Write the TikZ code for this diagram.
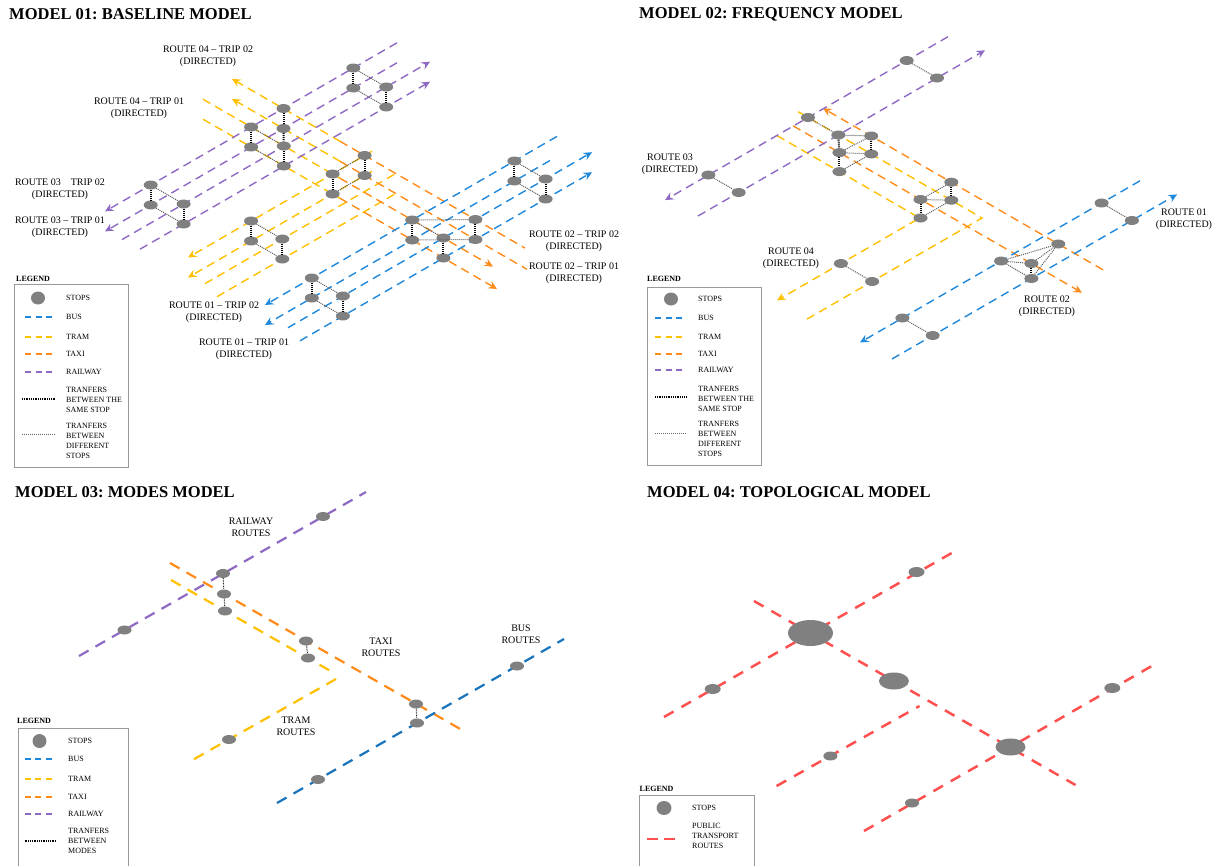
\documentclass[tikz,border=0pt]{standalone}
\usepackage{fontspec}
\setmainfont{Liberation Serif}
\usetikzlibrary{shapes.geometric,arrows.meta}
\pgfdeclarelayer{bgfill}
\pgfdeclarelayer{back}
\pgfsetlayers{bgfill,back,main}
\definecolor{busc}{RGB}{30,136,220}
\definecolor{tramc}{RGB}{255,192,0}
\definecolor{taxic}{RGB}{255,140,26}
\definecolor{railc}{RGB}{142,106,196}
\definecolor{stopc}{RGB}{128,128,128}
\definecolor{redc}{RGB}{255,80,80}
\frenchspacing
\begin{document}
\begin{tikzpicture}[x=1pt,y=-1pt,
  stop/.style={ellipse, fill=stopc, inner sep=0pt, minimum width=14pt, minimum height=9pt},
  ln/.style={line width=1.4pt, dash pattern=on 8.5pt off 5.5pt},
  lnthree/.style={line width=2.2pt, dash pattern=on 11pt off 8pt},
  lnfour/.style={redc, line width=2.5pt, dash pattern=on 11pt off 9pt},
  legln/.style={line width=1.4pt, dash pattern=on 6pt off 4.5pt},
  arrowend/.style={-{Stealth[length=8.5pt,width=8pt,inset=3pt]}},
  same/.style={black, line width=2pt, dash pattern=on 1pt off 1pt},
  diff/.style={gray!75!black, line width=1pt, dash pattern=on 1pt off 1pt},
  modes/.style={black!85, line width=1pt, dash pattern=on 0.8pt off 0.8pt},
  ttl/.style={anchor=west, inner sep=0pt, font=\bfseries\fontsize{16.5}{18}\selectfont},
  lbl/.style={align=center, inner sep=0pt, font=\fontsize{10}{12}\selectfont},
  leg/.style={anchor=west, align=left, inner sep=0pt, font=\fontsize{8}{10}\selectfont},
  legt/.style={anchor=west, inner sep=0pt, font=\bfseries\fontsize{8}{10}\selectfont},
  legbox/.style={draw=gray!80, line width=1pt}
]
\useasboundingbox (0,0) rectangle (1221,865);
\begin{pgfonlayer}{bgfill}
\fill[white] (0,0) rectangle (1221,865);
\end{pgfonlayer}

% ---------------- titles
\node[ttl] (t1) at (9,14) {MODEL 01: BASELINE MODEL};
\node[ttl] (t2) at (639,14) {MODEL 02: FREQUENCY MODEL};
\node[ttl] (t3) at (15,492) {MODEL 03: MODES MODEL};
\node[ttl] (t4) at (647,492) {MODEL 04: TOPOLOGICAL MODEL};

% ================= MODEL 01 =================
\node[stop] (A1) at (150.7,185) {};
\node[stop] (A2) at (150.7,205) {};
\node[stop] (A3) at (183.6,204) {};
\node[stop] (A4) at (183.6,224) {};
\node[stop] (B1) at (251.1,127) {};
\node[stop] (B2) at (251.1,147) {};
\node[stop] (C1) at (283.5,108.5) {};
\node[stop] (C2) at (283.5,128.5) {};
\node[stop] (C3) at (283.8,146) {};
\node[stop] (C4) at (283.8,166) {};
\node[stop] (D1) at (353.3,68) {};
\node[stop] (D2) at (353.3,88) {};
\node[stop] (D3) at (386.2,87) {};
\node[stop] (D4) at (386.2,107) {};
\node[stop] (E1) at (251.1,221) {};
\node[stop] (E2) at (251.1,241) {};
\node[stop] (E3) at (282.3,239) {};
\node[stop] (E4) at (282.3,259) {};
\node[stop] (F1) at (332.6,174) {};
\node[stop] (F2) at (332.6,194) {};
\node[stop] (F3) at (364.6,155.5) {};
\node[stop] (F4) at (364.6,175.5) {};
\node[stop] (G1) at (311.8,278) {};
\node[stop] (G2) at (311.8,298) {};
\node[stop] (G3) at (342.9,296) {};
\node[stop] (G4) at (342.9,316) {};
\node[stop] (H1) at (412.2,220) {};
\node[stop] (H2) at (412.2,240) {};
\node[stop] (H3) at (443.4,238) {};
\node[stop] (H4) at (443.4,258) {};
\node[stop] (H5) at (475.4,219.5) {};
\node[stop] (H6) at (475.4,239.5) {};
\node[stop] (K1) at (514.4,161) {};
\node[stop] (K2) at (514.4,181) {};
\node[stop] (K3) at (545.6,179) {};
\node[stop] (K4) at (545.6,199) {};

% route end points
\coordinate (pa1) at (397,42.8);  \coordinate (pa2) at (105,211.4);
\coordinate (pb1) at (397,62.8);  \coordinate (pb2) at (105,231.4);
\coordinate (pc1) at (122,239.6); \coordinate (pc2) at (430,61.7);
\coordinate (pd1) at (140,249.2); \coordinate (pd2) at (430,81.7);
\coordinate (ya1) at (340,141.3); \coordinate (ya2) at (232,78.9);
\coordinate (yb1) at (340,161.3); \coordinate (yb2) at (232,98.9);
\coordinate (yc1) at (203,99.2);  \coordinate (yc2) at (340,178.3);
\coordinate (yd1) at (203,119.2); \coordinate (yd2) at (340,198.3);
\coordinate (oa2) at (525,248.1); \coordinate (ob2) at (527,269.3);
\coordinate (oc2) at (493,266.6); \coordinate (od2) at (497,289);
\coordinate (ye1) at (372,151.2); \coordinate (ye2) at (188,257.5);
\coordinate (yf1) at (372,171.2); \coordinate (yf2) at (188,277.5);
\coordinate (yg1) at (205,283.6); \coordinate (yg2) at (396,173.4);
\coordinate (yh1) at (217,296.7); \coordinate (yh2) at (396,193.4);
\coordinate (ba1) at (557,136.4); \coordinate (ba2) at (265,305);
\coordinate (bb1) at (550,160.5); \coordinate (bb2) at (265,325);
\coordinate (bc1) at (288,327.7); \coordinate (bc2) at (592,152.2);
\coordinate (bd1) at (300,340.8); \coordinate (bd2) at (592,172.2);

\begin{pgfonlayer}{back}
\draw[ln, tramc, arrowend] (ye1) -- (ye2);
\draw[ln, tramc, arrowend] (yf1) -- (yf2);
\draw[ln, tramc] (yg1) -- (yg2);
\draw[ln, tramc] (yh1) -- (yh2);
\draw[ln, taxic] (ya1) -- (oa2);
\draw[ln, taxic] (yb1) -- (ob2);
\draw[ln, taxic, arrowend] (yc2) -- (oc2);
\draw[ln, taxic, arrowend] (yd2) -- (od2);
\draw[ln, tramc, arrowend] (ya1) -- (ya2);
\draw[ln, tramc, arrowend] (yb1) -- (yb2);
\draw[ln, tramc] (yc1) -- (yc2);
\draw[ln, tramc] (yd1) -- (yd2);
\draw[ln, railc, arrowend] (pa1) -- (pa2);
\draw[ln, railc, arrowend] (pb1) -- (pb2);
\draw[ln, railc, arrowend] (pc1) -- (pc2);
\draw[ln, railc, arrowend] (pd1) -- (pd2);
\draw[ln, busc, arrowend] (ba1) -- (ba2);
\draw[ln, busc, arrowend] (bb1) -- (bb2);
\draw[ln, busc, arrowend] (bc1) -- (bc2);
\draw[ln, busc, arrowend] (bd1) -- (bd2);
\end{pgfonlayer}

% transfers model 01
\draw[same] (A1) -- (A2); \draw[same] (A3) -- (A4);
\draw[diff] (A1) -- (A3); \draw[diff] (A2) -- (A4);
\draw[same] (B1) -- (B2);
\draw[same] (C1) -- (C2); \draw[same] (C2) -- (C3); \draw[same] (C3) -- (C4);
\draw[diff] (B1) -- (C3); \draw[diff] (B2) -- (C4);
\draw[same] (D1) -- (D2); \draw[same] (D3) -- (D4);
\draw[diff] (D1) -- (D3); \draw[diff] (D2) -- (D4);
\draw[same] (E1) -- (E2); \draw[same] (E3) -- (E4);
\draw[diff] (E1) -- (E3); \draw[diff] (E2) -- (E4);
\draw[same] (F1) -- (F2); \draw[same] (F3) -- (F4);
\draw[diff] (F1) -- (F3); \draw[diff] (F2) -- (F4);
\draw[same] (G1) -- (G2); \draw[same] (G3) -- (G4);
\draw[diff] (G1) -- (G3); \draw[diff] (G2) -- (G4);
\draw[same] (H1) -- (H2); \draw[same] (H3) -- (H4); \draw[same] (H5) -- (H6);
\draw[diff] (H1) -- (H5); \draw[diff] (H2) -- (H6); \draw[diff] (H1) -- (H3);
\draw[same] (K1) -- (K2); \draw[same] (K3) -- (K4);
\draw[diff] (K1) -- (K3); \draw[diff] (K2) -- (K4);

% labels model 01
\node[lbl] (l1) at (208,56) {ROUTE 04 -- TRIP 02\\(DIRECTED)};
\node[lbl] (l2) at (139,108) {ROUTE 04 -- TRIP 01\\(DIRECTED)};
\node[lbl] (l3) at (60,189) {ROUTE 03 \hphantom{--} TRIP 02\\(DIRECTED)};
\node[lbl] (l4) at (60,227) {ROUTE 03 -- TRIP 01\\(DIRECTED)};
\node[lbl] (l5) at (214,312) {ROUTE 01 -- TRIP 02\\(DIRECTED)};
\node[lbl] (l6) at (244,349.5) {ROUTE 01 -- TRIP 01\\(DIRECTED)};
\node[lbl] (l7) at (574,241.5) {ROUTE 02 -- TRIP 02\\(DIRECTED)};
\node[lbl] (l8) at (574,273) {ROUTE 02 -- TRIP 01\\(DIRECTED)};

% legend model 01
\node[legt] (lg1) at (16,279) {LEGEND};
\draw[legbox] (14,284) rectangle (128,467);
\node[stop, minimum width=14pt, minimum height=13pt] (ls1) at (38,298) {};
\node[leg] at (66,298) {STOPS};
\draw[legln, busc] (25,317) -- (53,317);   \node[leg] at (66,317) {BUS};
\draw[legln, tramc] (25,337) -- (53,337);  \node[leg] at (66,337) {TRAM};
\draw[legln, taxic] (25,354) -- (53,354);  \node[leg] at (66,354) {TAXI};
\draw[legln, railc] (25,372) -- (53,372);  \node[leg] at (66,372) {RAILWAY};
\draw[black, line width=1.5pt, dash pattern=on 0.9pt off 0.9pt] (22,399) -- (55,399);
\node[leg] at (66,400) {TRANFERS\\BETWEEN THE\\SAME STOP};
\draw[diff] (22,434) -- (55,434);
\node[leg] at (66,441) {TRANFERS\\BETWEEN\\DIFFERENT\\STOPS};

% ================= MODEL 02 =================
\node[stop] (S1) at (906.7,60.5) {};
\node[stop] (S2) at (937.0,78) {};
\node[stop] (S3) at (708.4,175) {};
\node[stop] (S4) at (738.7,192.5) {};
\node[stop] (S5) at (808.0,117.5) {};
\node[stop] (S6) at (838.3,135) {};
\node[stop] (S7) at (839.4,152.6) {};
\node[stop] (S8) at (839.4,171.6) {};
\node[stop] (S9) at (871.2,136) {};
\node[stop] (S10) at (871.2,154) {};
\node[stop] (Q1) at (920.5,199.5) {};
\node[stop] (Q2) at (920.5,218) {};
\node[stop] (Q3) at (951.3,182.2) {};
\node[stop] (Q4) at (951.3,200.2) {};
\node[stop] (T1) at (840.9,263.5) {};
\node[stop] (T2) at (872.1,281.5) {};
\node[stop] (U1) at (1101.6,203) {};
\node[stop] (U2) at (1131.9,220.5) {};
\node[stop] (U3) at (902.4,318) {};
\node[stop] (U4) at (932.7,335.5) {};
\node[stop] (R1) at (1001.1,261) {};
\node[stop] (R2) at (1031.4,263.5) {};
\node[stop] (R3) at (1031.4,278.5) {};
\node[stop] (R4) at (1058.3,244) {};

\coordinate (qa1) at (948,36.7);   \coordinate (qa2) at (665,200.1);
\coordinate (qb1) at (698,216);    \coordinate (qb2) at (985,50.3);
\coordinate (qo1) at (1103,269.8); \coordinate (qo2) at (823,108.2);
\coordinate (qp1) at (793,125.8);  \coordinate (qp2) at (1082,292.7);
\coordinate (qy1) at (777,135.6);  \coordinate (qyv) at (919.7,218);  \coordinate (qy2) at (777,300.4);
\coordinate (qz1) at (807,319.1);  \coordinate (qzv) at (982.0,218);  \coordinate (qz2) at (798,111.7);
\coordinate (qc1) at (1140,180.8); \coordinate (qc2) at (860,342.5);
\coordinate (qd1) at (892,359);    \coordinate (qd2) at (1177,194.4);

\begin{pgfonlayer}{back}
\draw[ln, tramc, arrowend] (qy1) -- (qyv) -- (qy2);
\draw[ln, tramc] (qz1) -- (qzv) -- (qz2);
\draw[ln, taxic, arrowend] (qo1) -- (qo2);
\draw[ln, taxic, arrowend] (qp1) -- (qp2);
\draw[ln, railc, arrowend] (qa1) -- (qa2);
\draw[ln, railc, arrowend] (qb1) -- (qb2);
\draw[ln, busc, arrowend] (qc1) -- (qc2);
\draw[ln, busc, arrowend] (qd1) -- (qd2);
\end{pgfonlayer}

\draw[diff] (S1) -- (S2); \draw[diff] (S3) -- (S4);
\draw[diff] (S5) -- (S6);
\draw[same] (S6) -- (S7); \draw[same] (S7) -- (S8); \draw[same] (S9) -- (S10);
\draw[diff] (S6) -- (S9); \draw[diff] (S7) -- (S10);
\draw[diff] (S7) -- (S9); \draw[diff] (S8) -- (S10);
\draw[same] (Q1) -- (Q2); \draw[same] (Q3) -- (Q4);
\draw[diff] (Q1) -- (Q3); \draw[diff] (Q1) -- (Q4); \draw[diff] (Q2) -- (Q4);
\draw[diff] (T1) -- (T2);
\draw[diff] (U1) -- (U2); \draw[diff] (U3) -- (U4);
\draw[same] (R2) -- (R3);
\draw[diff] (R1) -- (R4); \draw[diff] (R1) -- (R2); \draw[diff] (R1) -- (R3);
\draw[diff] (R3) -- (R4); \draw[diff] (R2) -- (R4);

\node[lbl] (m1) at (670,164) {ROUTE 03\\(DIRECTED)};
\node[lbl] (m2) at (791,258) {ROUTE 04\\(DIRECTED)};
\node[lbl] (m3) at (1184,219.5) {ROUTE 01\\(DIRECTED)};
\node[lbl] (m4) at (1047,306) {ROUTE 02\\(DIRECTED)};

% legend model 02
\node[legt] (lg2) at (647,279) {LEGEND};
\draw[legbox] (647,287) rectangle (761,465);
\node[stop, minimum width=14pt, minimum height=13pt] (ls2) at (671,299) {};
\node[leg] at (698,299) {STOPS};
\draw[legln, busc] (655,318) -- (686,318);   \node[leg] at (698,318) {BUS};
\draw[legln, tramc] (655,337) -- (686,337);  \node[leg] at (698,337) {TRAM};
\draw[legln, taxic] (655,354) -- (686,354);  \node[leg] at (698,354) {TAXI};
\draw[legln, railc] (655,370) -- (686,370);  \node[leg] at (698,370) {RAILWAY};
\draw[black, line width=1.5pt, dash pattern=on 0.9pt off 0.9pt] (655,397) -- (687,397);
\node[leg] at (698,399) {TRANFERS\\BETWEEN THE\\SAME STOP};
\draw[diff] (655,433) -- (687,433);
\node[leg] at (698,439) {TRANFERS\\BETWEEN\\DIFFERENT\\STOPS};

% ================= MODEL 03 =================
\node[stop] (M1) at (223,573.5) {};
\node[stop] (M2) at (224,594) {};
\node[stop] (M3) at (225,611) {};
\node[stop] (M4) at (306,641) {};
\node[stop] (M5) at (308,658) {};
\node[stop] (M6) at (416,704) {};
\node[stop] (M7) at (417,723) {};
\node[stop] (M8) at (124.5,630) {};
\node[stop] (M9) at (323,516.5) {};
\node[stop] (M10) at (229,739.5) {};
\node[stop] (M11) at (318,779.5) {};
\node[stop] (M12) at (517,666) {};

\coordinate (ra1) at (79,656);   \coordinate (ra2) at (366,492);
\coordinate (ro1) at (170,563);  \coordinate (ro2) at (462,730);
\coordinate (ry1) at (171,580);  \coordinate (ry2) at (334,673);
\coordinate (ry3) at (336,679);  \coordinate (ry4) at (192.5,760);
\coordinate (rb1) at (277,803);  \coordinate (rb2) at (564,639);
\begin{pgfonlayer}{back}
\draw[lnthree, railc] (ra1) -- (ra2);
\draw[lnthree, taxic] (ro1) -- (ro2);
\draw[lnthree, tramc] (ry1) -- (ry2);
\draw[lnthree, tramc] (ry3) -- (ry4);
\draw[lnthree, busc!85!black] (rb1) -- (rb2);
\end{pgfonlayer}
\draw[modes] (M1) -- (M2); \draw[modes] (M2) -- (M3);
\draw[modes] (M4) -- (M5); \draw[modes] (M6) -- (M7);

\node[lbl] (n1) at (251,527.5) {RAILWAY\\ROUTES};
\node[lbl] (n2) at (381,647.5) {TAXI\\ROUTES};
\node[lbl] (n3) at (521,634) {BUS\\ROUTES};
\node[lbl] (n4) at (296,726) {TRAM\\ROUTES};

% legend model 03
\node[legt] (lg3) at (17,721) {LEGEND};
\draw[legbox] (18,866) -- (18,728) -- (128,728) -- (128,866);
\node[stop, minimum width=14pt, minimum height=14pt] (ls3) at (39.5,741) {};
\node[leg] at (68,741) {STOPS};
\draw[legln, busc] (24.5,759) -- (55,759);   \node[leg] at (68,759) {BUS};
\draw[legln, tramc] (24.5,779) -- (55,779);  \node[leg] at (68,779) {TRAM};
\draw[legln, taxic] (24.5,797) -- (55,797);  \node[leg] at (68,797) {TAXI};
\draw[legln, railc] (24.5,814) -- (55,814);  \node[leg] at (68,814) {RAILWAY};
\draw[black, line width=1.5pt, dash pattern=on 0.9pt off 0.9pt] (24.5,841) -- (56,841);
\node[leg] at (68,841) {TRANFERS\\BETWEEN\\MODES};

% ================= MODEL 04 =================
\node[stop, minimum width=45pt, minimum height=26pt] (N1) at (810.5,633) {};
\node[stop, minimum width=30pt, minimum height=17pt] (N2) at (893.9,681) {};
\node[stop, minimum width=30pt, minimum height=17pt] (N3) at (1010.5,747) {};
\node[stop, minimum width=16pt, minimum height=10pt] (N4) at (712.7,689) {};
\node[stop, minimum width=16pt, minimum height=10pt] (N5) at (916.5,572) {};
\node[stop, minimum width=14pt, minimum height=9pt] (N6) at (830.4,756) {};
\node[stop, minimum width=16pt, minimum height=10pt] (N7) at (1112.3,688) {};
\node[stop, minimum width=14pt, minimum height=9pt] (N8) at (912,803) {};

\coordinate (sa1) at (664,717);   \coordinate (sa2) at (957,550);
\coordinate (sb1) at (754,601);   \coordinate (sb2) at (1075.5,785);
\coordinate (sc1) at (776.6,786); \coordinate (sc2) at (919.5,706);
\coordinate (sd1) at (864,831);   \coordinate (sd2) at (1157,663);
\begin{pgfonlayer}{back}
\draw[lnfour] (sa1) -- (sa2);
\draw[lnfour] (sb1) -- (sb2);
\draw[lnfour] (sc1) -- (sc2);
\draw[lnfour] (sd1) -- (sd2);
\end{pgfonlayer}

% legend model 04
\node[legt] (lg4) at (639.5,789) {LEGEND};
\draw[legbox] (639.5,866) -- (639.5,795) -- (754,795) -- (754,866);
\node[stop, minimum width=15pt, minimum height=14pt] (ls4) at (664,808) {};
\node[leg] at (692,808) {STOPS};
\draw[redc, line width=2.5pt, dash pattern=on 11pt off 6pt] (647,839) -- (676,839);
\node[leg] at (692,836) {PUBLIC\\TRANSPORT\\ROUTES};

\end{tikzpicture}
\end{document}
